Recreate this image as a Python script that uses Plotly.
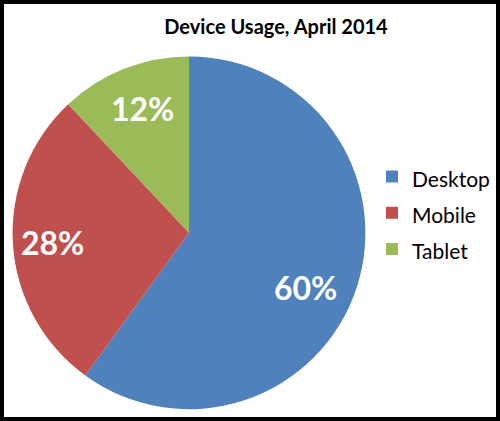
import plotly.graph_objects as go

# device share, April 2014
devices = ['Desktop', 'Mobile', 'Tablet']
share = [60, 28, 12]
colors = ['#4F81BD', '#C0504D', '#9BBB59']

# where Excel put the percent labels (paper coords)
label_pos = [(0.61, 0.318), (0.104, 0.425), (0.284, 0.743)]

# legend rows in Excel are spaced wider than plotly's, so the legend font is
# bigger and the label text is shrunk back with a span
legend_names = ['<span style="font-size:21px">%s</span>' % d for d in devices]

fig = go.Figure(go.Pie(
    labels=legend_names,
    values=share,
    sort=False,
    direction='clockwise',
    rotation=0,
    marker=dict(colors=colors, line=dict(color='white', width=0)),
    textinfo='none',
    domain=dict(x=[0.024, 0.732], y=[0.028, 0.866]),
    hoverinfo='label+percent',
))

total = sum(share)
for (x, y), v in zip(label_pos, share):
    fig.add_annotation(x=x, y=y, xref='paper', yref='paper', showarrow=False,
                       xanchor='center', yanchor='middle',
                       text='<b>%d%%</b>' % round(100 * v / total),
                       font=dict(family='Lato', size=32, color='white'))

fig.update_layout(
    width=500, height=421,
    margin=dict(l=0, r=0, t=0, b=0),
    paper_bgcolor='white',
    title=dict(text='<b>Device Usage, April 2014</b>', x=0.552, xanchor='center',
               y=0.935, yanchor='middle',
               font=dict(family='Lato', size=20, color='black')),
    legend=dict(x=0.744, y=0.494, xanchor='left', yanchor='middle',
                bgcolor='rgba(0,0,0,0)',
                font=dict(family='Lato', size=25.5, color='black'),
                itemwidth=30),
    shapes=[dict(type='rect', xref='paper', yref='paper', x0=0, x1=1, y0=0, y1=1,
                 layer='above', line=dict(color='black', width=8))],
)

fig.write_html('out.html', config={'displayModeBar': False},
               post_script="document.body.style.margin='0';"
                           "document.body.style.overflow='hidden';"
                           "document.documentElement.style.overflow='hidden';")
